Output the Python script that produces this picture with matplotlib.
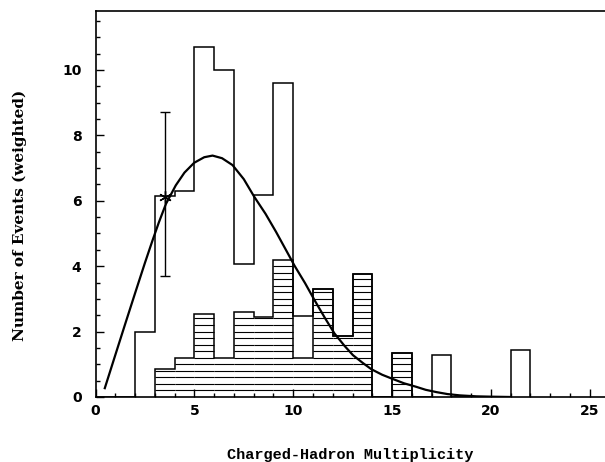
import numpy as np
from matplotlib import pyplot as plt

# bin edges 0..23, one unit wide
edges = np.arange(0, 23)
# all events (open histogram)
total = [0, 0, 2.0, 6.13, 6.3, 10.7, 10.0, 4.07, 6.18, 9.6, 2.47, 3.3,
         1.88, 3.77, 0, 1.35, 0, 1.27, 0, 0, 0, 1.44]
# subset (hatched histogram)
hatched = [0, 0, 0, 0.87, 1.2, 2.55, 1.2, 2.6, 2.46, 4.2, 1.2, 3.3,
           1.88, 3.77, 0, 1.35, 0, 0, 0, 0, 0, 0]

# fitted curve
curve_x = [0.47, 1.0, 1.5, 2.0, 2.5, 2.88, 3.2, 3.56, 4.06, 4.5, 4.99, 5.5,
           5.92, 6.4, 6.93, 7.5, 8.03, 8.6, 9.13, 9.81, 10.06, 10.6, 11.07,
           11.6, 12.09, 12.6, 13.02, 13.5, 13.95, 14.5, 15.04, 15.6, 16.23,
           16.7, 17.24, 17.8, 18.42, 19.27, 20.0, 21.0]
curve_y = [0.27, 1.28, 2.23, 3.17, 4.1, 4.78, 5.33, 5.9, 6.47, 6.86, 7.16, 7.33,
           7.38, 7.3, 7.09, 6.66, 6.12, 5.6, 5.05, 4.3, 4.02, 3.48, 2.97,
           2.42, 1.94, 1.56, 1.28, 1.05, 0.85, 0.68, 0.55, 0.42, 0.31,
           0.22, 0.15, 0.09, 0.05, 0.02, 0.01, 0.0]

# data point with error bar
pt_x, pt_y = 3.5, 6.1
pt_lo, pt_hi = 3.7, 8.7

fig = plt.figure(figsize=(6.05, 4.62), dpi=100)
ax = fig.add_axes([95.5 / 605, 1 - 397 / 462, 1 - 95.5 / 605, (397 - 11) / 462])

# hatching: horizontal lines every 0.2 inside the hatched bins
for i, h in enumerate(hatched):
    levels = np.arange(0.2, h, 0.2)
    if len(levels):
        ax.hlines(levels, edges[i], edges[i + 1], color='k', lw=0.8)

ax.stairs(hatched[3:16], edges[3:17], color='k', lw=1.1, baseline=0)
ax.stairs(total, edges, color='k', lw=1.1, baseline=0)

ax.plot(curve_x, curve_y, color='k', lw=1.6)

ax.errorbar([pt_x], [pt_y], yerr=[[pt_y - pt_lo], [pt_hi - pt_y]],
            fmt='none', ecolor='k', elinewidth=1.0, capsize=3.5, capthick=1.0)
ax.plot([pt_x], [pt_y], marker=(6, 2, 0), color='k', ms=9, mew=1.0)

ax.set_xlim(0, 25.77)
ax.set_ylim(0, 11.8)
ax.spines['right'].set_visible(False)
for s in ax.spines.values():
    s.set_linewidth(1.2)

ax.set_xticks(np.arange(0, 26, 5))
ax.set_xticks(np.arange(0, 26, 1), minor=True)
ax.set_yticks(np.arange(0, 11, 2))
ax.set_yticks(np.arange(0, 11.6, 0.5), minor=True)
ax.tick_params(which='both', direction='in', top=False, right=False, width=1.0)
ax.tick_params(which='major', length=6)
ax.tick_params(which='minor', length=3)
ax.tick_params(axis='y', which='major', pad=10)
ax.tick_params(axis='x', which='major', pad=5)
for lab in ax.get_xticklabels() + ax.get_yticklabels():
    lab.set_fontweight('bold')
    lab.set_fontsize(10)

ax.set_xlabel('Charged-Hadron Multiplicity', family='Liberation Mono',
              fontweight='bold', fontsize=11, labelpad=22)
ax.set_ylabel('Number of Events (weighted)', family='DejaVu Serif',
              fontweight='bold', fontsize=11)
ax.yaxis.set_label_coords(-0.135, 0.47)

plt.savefig('out.png', dpi=100)
